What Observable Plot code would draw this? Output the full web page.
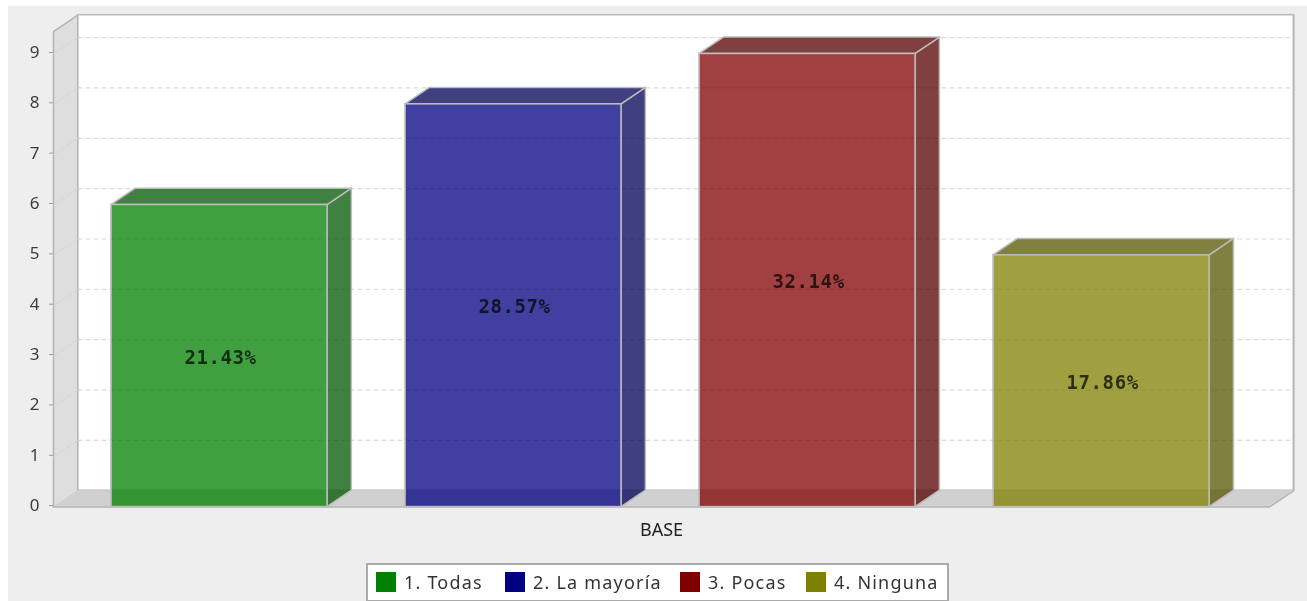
<!DOCTYPE html>
<html><head><meta charset="utf-8">
<script src="https://cdn.jsdelivr.net/npm/d3@7"></script>
<script src="https://cdn.jsdelivr.net/npm/@observablehq/plot@0.6"></script>
<style>
html,body{margin:0;padding:0;background:#fff;overflow:hidden}
#panel{position:absolute;left:8px;top:6px;width:1299px;height:595px;background:#eee}
#chart{position:absolute;left:0;top:0;filter:blur(.45px)}
#chart svg{background:transparent;display:block}
#legend{position:absolute;left:366px;top:563px;width:579px;height:35px;background:#fff;border:2px solid #aaa;font:18px "Noto Sans",sans-serif;color:#333;letter-spacing:1.2px;filter:blur(.45px)}
#legend span{position:absolute;top:5px;white-space:nowrap}
#legend i{position:absolute;top:7px;width:20px;height:20px}
.pct text{letter-spacing:.6px}
</style></head><body>
<div id="panel"></div><div id="chart"></div><div id="legend"></div>
<script>
const categories=["1. Todas","2. La mayoría","3. Pocas","4. Ninguna"];
const values=[6,8,9,5];
const percents=["21.43%","28.57%","32.14%","17.86%"];
const colors=["#008000","#000080","#800000","#808000"];
const sideColors=["#005500","#000055","#550000","#555500"];
const yTicks=[0,1,2,3,4,5,6,7,8,9];
const axisLabel="BASE";

// geometry, in data units
const barW=.7347, depthX=.0827, depthY=.325, xMin=-.5646, xFront=3.571, yFront=9.445;
const xMax=xFront+depthX, yMax=yFront+depthY;

const bars=categories.map((c,i)=>({c,i,v:values[i],p:percents[i],col:colors[i],side:sideColors[i],l:i-barW/2,r:i+barW/2}));

const wallLeft=[{x:xMin,y1:0,y2:yFront},{x:xMin+depthX,y1:depthY,y2:yMax}];
const floor=[{y:0,x1:xMin,x2:xFront},{y:depthY,x1:xMin+depthX,x2:xMax}];
const sideOf=b=>[{x:b.r,y1:0,y2:b.v},{x:b.r+depthX,y1:depthY,y2:b.v+depthY}];
const topOf=b=>[{y:b.v,x1:b.l,x2:b.r},{y:b.v+depthY,x1:b.l+depthX,x2:b.r+depthX}];

const edge="#bcbcbc";
const marks=[
  Plot.rect([0],{x1:xMin+depthX,x2:xMax,y1:depthY,y2:yMax,fill:"#fff",stroke:"#bdbdbd",strokeWidth:1.6}),
  Plot.ruleY(yTicks.slice(1),{x1:xMin+depthX,x2:xMax,y:d=>d+depthY,stroke:"#dcdcdc",strokeDasharray:"5 3",strokeWidth:1.2}),
  Plot.areaY(wallLeft,{x:"x",y1:"y1",y2:"y2",fill:"#dedede"}),
  Plot.line([{x:xMin,y:0},{x:xMin,y:yFront},{x:xMin+depthX,y:yMax},{x:xMin+depthX,y:depthY}],{x:"x",y:"y",stroke:"#b4b4b4",strokeWidth:1.5}),
  Plot.areaX(floor,{y:"y",x1:"x1",x2:"x2",fill:"#d0d0d0"}),
  Plot.line([{x:xMin,y:0},{x:xFront,y:0},{x:xMax,y:depthY},{x:xMax,y:yMax}],{x:"x",y:"y",stroke:"#b4b4b4",strokeWidth:1.5}),
  ...yTicks.slice(1).map(t=>Plot.line([{x:xMin,y:t},{x:xMin+depthX,y:t+depthY}],{x:"x",y:"y",stroke:"#d4d4d4",strokeDasharray:"5 3",strokeWidth:1})),
  Plot.axisY({ticks:yTicks,tickSize:4,tickPadding:10,label:null,anchor:"left",fontSize:17,stroke:"#999",fill:"#3c3c3c",dy:-1.5,tickFormat:d=>d}),
  Plot.axisX({ticks:[(xMin+xFront)/2],tickFormat:()=>axisLabel,tickSize:0,tickPadding:16,label:null,anchor:"bottom",fontSize:18,fill:"#222"}),
];
for(const b of bars){
  marks.push(Plot.areaY(sideOf(b),{x:"x",y1:"y1",y2:"y2",fill:b.side,fillOpacity:.75,stroke:edge,strokeWidth:1.5}));
  marks.push(Plot.areaX(topOf(b),{y:"y",x1:"x1",x2:"x2",fill:b.side,fillOpacity:.75,stroke:edge,strokeWidth:1.5}));
  marks.push(Plot.rect([b],{x1:"l",x2:"r",y1:0,y2:"v",fill:b.col,fillOpacity:.75,stroke:edge,strokeWidth:1.6}));
}
marks.push(Plot.text(bars,{x:"i",y:d=>d.v/2,dy:1.5,dx:1,text:"p",className:"pct",fontFamily:"DejaVu Sans Mono",fontWeight:"bold",fontSize:19,fill:"#000",fillOpacity:.72}));

const plot=Plot.plot({
  width:1307,height:560,marginLeft:53,marginRight:1307-1293.3,marginTop:14.7,marginBottom:560-506.6,
  style:{background:"transparent",fontFamily:"'Noto Sans',sans-serif",overflow:"visible"},
  x:{type:"linear",domain:[xMin,xMax]},
  y:{type:"linear",domain:[0,yMax]},
  marks
});
document.getElementById("chart").append(plot);

const legend=document.getElementById("legend");
const swatchX=[8,137,312,438], textX=[36,165,340,466];
categories.forEach((c,i)=>{
  const sw=document.createElement("i");sw.style.left=swatchX[i]+"px";sw.style.background=colors[i];legend.append(sw);
  const t=document.createElement("span");t.style.left=textX[i]+"px";t.textContent=c;legend.append(t);
});
</script></body></html>
